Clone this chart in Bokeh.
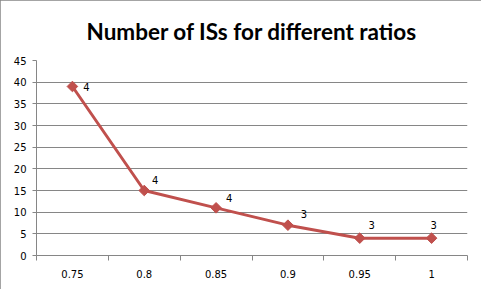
import numpy as np
from bokeh.plotting import figure
from bokeh.models import ColumnDataSource, FixedTicker, Range1d, InlineStyleSheet
from bokeh.core.properties import value
from bokeh.embed import file_html
from bokeh.resources import INLINE

# ---- data ----
ratios = ["0.75", "0.8", "0.85", "0.9", "0.95", "1"]
num_iss = [39, 15, 11, 7, 4, 4]
point_labels = ["4", "4", "4", "3", "3", "3"]
y_ticks = [0, 5, 10, 15, 20, 25, 30, 35, 40, 45]

# label placement (screen px, style only)
label_dx = [14, 11, 13, 16, 12, 2]
label_dy = [0, -11, -10, -11, -13, -13]

pos = list(np.arange(len(ratios)) + 0.5)
src = ColumnDataSource(dict(x=pos, y=num_iss, lab=point_labels,
                            dx=label_dx, dy=label_dy))

GRAY = "#868686"
RED = "#C0504D"
W, H = 481, 289

p = figure(width=W, height=H, output_backend="svg", toolbar_location=None,
           x_range=Range1d(0, len(ratios)), y_range=Range1d(0, 45),
           min_border_left=36, min_border_right=14, min_border_top=58,
           min_border_bottom=34, background_fill_color="white",
           border_fill_color="white", outline_line_color=None)
p.stylesheets = [InlineStyleSheet(
    css=":host { outline: 1px solid %s; outline-offset: -1px; }" % GRAY)]

p.title.text = "Number of ISs for different ratios"
p.title.align = "center"
p.title.text_font = "Lato"
p.title.text_font_style = "bold"
p.title.text_font_size = "22.5px"
p.title.text_color = "black"
p.title.standoff = 31

# x axis: labels at centres, ticks at boundaries (minor ticks)
xa = p.xaxis[0]
xa.ticker = FixedTicker(ticks=pos, minor_ticks=list(range(len(ratios) + 1)))
xa.major_label_overrides = {float(v): r for v, r in zip(pos, ratios)}
xa.major_tick_line_color = None
xa.major_tick_out = 0
xa.major_tick_in = 0
xa.minor_tick_line_color = GRAY
xa.minor_tick_out = 5
xa.minor_tick_in = 0
xa.axis_line_color = GRAY
xa.major_label_text_font = "DejaVu Sans"
xa.major_label_text_font_size = "10px"
xa.major_label_text_color = "black"
xa.major_label_standoff = 9

ya = p.yaxis[0]
ya.ticker = FixedTicker(ticks=y_ticks)
ya.major_tick_line_color = GRAY
ya.major_tick_out = 4
ya.major_tick_in = 0
ya.minor_tick_line_color = None
ya.axis_line_color = GRAY
ya.major_label_text_font = "DejaVu Sans"
ya.major_label_text_font_size = "10px"
ya.major_label_text_color = "black"
ya.major_label_standoff = 6

p.xgrid.grid_line_color = None
p.ygrid.ticker = FixedTicker(ticks=y_ticks)
p.ygrid.grid_line_color = GRAY
p.ygrid.grid_line_width = 1

p.line("x", "y", source=src, line_color=RED, line_width=3)
p.scatter("x", "y", source=src, marker="square", angle=np.pi / 4, size=7.5,
          fill_color=RED, line_color=RED)
p.text("x", "y", text="lab", source=src, x_offset="dx", y_offset="dy",
       text_align="center", text_baseline="middle",
       text_font=value("DejaVu Sans"), text_font_size="10px", text_color="black")

open("out.html", "w").write(file_html(p, INLINE))
